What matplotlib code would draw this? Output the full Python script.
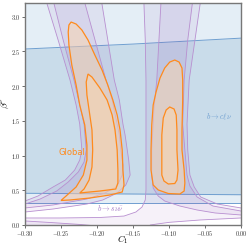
import matplotlib
matplotlib.use("Agg")
import matplotlib.pyplot as plt

plt.rcParams["font.family"] = ["DejaVu Serif"]
plt.rcParams["mathtext.fontset"] = "cm"

# b -> c l nu band (1 and 2 sigma)
blue_c1 = [-0.31, -0.15, 0.01]
blue_1s_low = [0.457, 0.446, 0.435]
blue_1s_high = [2.528, 2.604, 2.695]
blue_2s_low = [0.317, 0.317, 0.317]

# b -> s nu nu regions, (C1, beta) vertices
snn_2s_left = [(-0.271, 3.237), (-0.254, 2.662), (-0.2375, 2.086), (-0.229, 1.727),
               (-0.224, 1.453), (-0.221, 1.079), (-0.224, 0.935), (-0.231, 0.791),
               (-0.244, 0.647), (-0.261, 0.547), (-0.282, 0.417), (-0.300, 0.345),
               (-0.31, 0.33), (-0.31, 0.19),
               (-0.300, 0.187), (-0.261, 0.230), (-0.214, 0.302), (-0.192, 0.360),
               (-0.172, 0.460), (-0.160, 0.576), (-0.154, 0.719), (-0.156, 0.935),
               (-0.158, 1.079), (-0.161, 1.295), (-0.164, 1.453), (-0.169, 1.799),
               (-0.176, 2.086), (-0.194, 3.237)]
snn_1s_left = [(-0.261, 3.237), (-0.247, 2.662), (-0.232, 2.086), (-0.224, 1.727),
               (-0.218, 1.453), (-0.215, 1.079), (-0.218, 0.906), (-0.226, 0.763),
               (-0.240, 0.619), (-0.256, 0.489), (-0.279, 0.374), (-0.300, 0.302),
               (-0.31, 0.29), (-0.31, 0.25),
               (-0.300, 0.245), (-0.261, 0.288), (-0.214, 0.374), (-0.189, 0.460),
               (-0.172, 0.561), (-0.165, 0.719), (-0.164, 0.863), (-0.167, 1.079),
               (-0.169, 1.295), (-0.172, 1.453), (-0.179, 1.799), (-0.1875, 2.086),
               (-0.218, 3.237)]
snn_2s_right = [(-0.135, 3.237), (-0.133, 2.662), (-0.132, 2.086), (-0.132, 1.079),
                (-0.132, 0.504), (-0.133, 0.360), (-0.1375, 0.259), (-0.146, 0.187),
                (-0.1625, 0.129), (-0.196, 0.108), (-0.251, 0.101), (-0.300, 0.101),
                (-0.31, 0.101), (-0.31, -0.05), (-0.128, -0.05),
                (-0.126, 0.0), (-0.117, 0.014), (-0.099, 0.039), (-0.057, 0.072),
                (0.0, 0.101), (0.01, 0.101), (0.01, 0.245),
                (0.0, 0.245), (-0.033, 0.302), (-0.056, 0.403), (-0.065, 0.547),
                (-0.071, 0.719), (-0.074, 1.079), (-0.075, 1.453), (-0.072, 2.086),
                (-0.064, 2.662), (-0.056, 3.237)]
snn_1s_right = [(-0.111, 3.237), (-0.114, 2.662), (-0.117, 2.086), (-0.121, 1.655),
                (-0.122, 1.453), (-0.124, 1.079), (-0.124, 0.719), (-0.122, 0.532),
                (-0.115, 0.417), (-0.106, 0.345), (-0.085, 0.273), (-0.061, 0.216),
                (-0.036, 0.173), (0.0, 0.144), (0.01, 0.14), (0.01, 0.205),
                (0.0, 0.201), (-0.039, 0.273), (-0.061, 0.403), (-0.071, 0.561),
                (-0.075, 0.719), (-0.078, 1.079), (-0.081, 1.453), (-0.079, 2.086),
                (-0.074, 2.662), (-0.067, 3.237)]
snn_1s_bottom = [(-0.31, 0.058), (-0.300, 0.058), (-0.265, 0.036), (-0.224, 0.008),
                 (-0.205, -0.01), (-0.31, -0.05)]

# Global fit regions
glob_2s_left = [(-0.236, 2.921), (-0.229, 2.892), (-0.221, 2.806), (-0.2125, 2.662),
                (-0.203, 2.446), (-0.193, 2.230), (-0.185, 2.014), (-0.178, 1.799),
                (-0.172, 1.583), (-0.168, 1.367), (-0.165, 1.079), (-0.164, 0.791),
                (-0.1625, 0.576), (-0.165, 0.475), (-0.182, 0.432), (-0.210, 0.388),
                (-0.2375, 0.360), (-0.250, 0.353), (-0.243, 0.417), (-0.229, 0.547),
                (-0.219, 0.719), (-0.214, 0.935), (-0.214, 1.151), (-0.217, 1.439),
                (-0.224, 1.727), (-0.229, 2.014), (-0.235, 2.302), (-0.239, 2.590),
                (-0.240, 2.777), (-0.239, 2.878)]
glob_1s_left = [(-0.2125, 2.173), (-0.207, 2.129), (-0.196, 1.971), (-0.186, 1.799),
                (-0.179, 1.583), (-0.175, 1.367), (-0.172, 1.079), (-0.171, 0.791),
                (-0.171, 0.604), (-0.174, 0.518), (-0.196, 0.489), (-0.217, 0.468),
                (-0.224, 0.460), (-0.218, 0.518), (-0.211, 0.647), (-0.207, 0.835),
                (-0.206, 1.079), (-0.207, 1.367), (-0.211, 1.655), (-0.214, 1.871),
                (-0.215, 2.058)]
glob_2s_right = [(-0.092, 2.374), (-0.086, 2.345), (-0.082, 2.259), (-0.081, 2.086),
                 (-0.081, 1.799), (-0.082, 1.367), (-0.082, 1.079), (-0.079, 0.791),
                 (-0.078, 0.604), (-0.079, 0.489), (-0.085, 0.446), (-0.101, 0.453),
                 (-0.115, 0.504), (-0.122, 0.576), (-0.125, 0.791), (-0.125, 1.079),
                 (-0.124, 1.439), (-0.122, 1.727), (-0.118, 1.914), (-0.1125, 2.115),
                 (-0.106, 2.259), (-0.099, 2.345)]
glob_1s_right = [(-0.099, 1.698), (-0.093, 1.669), (-0.090, 1.583), (-0.089, 1.367),
                 (-0.089, 1.079), (-0.0875, 0.791), (-0.089, 0.647), (-0.092, 0.597),
                 (-0.101, 0.590), (-0.107, 0.633), (-0.110, 0.719), (-0.110, 1.007),
                 (-0.110, 1.295), (-0.108, 1.540), (-0.104, 1.655)]

x_ticks = [-0.30, -0.25, -0.20, -0.15, -0.10, -0.05, 0.00]
y_ticks = [0.0, 0.5, 1.0, 1.5, 2.0, 2.5, 3.0]

blue_line = "#6f9fd0"
purple_line = "#b88fd0"
purple_fill = (0.56, 0.30, 0.70, 0.08)
orange_line = "#ff8a1c"
orange_fill = (0.99, 0.84, 0.68, 0.5)

fig = plt.figure(figsize=(2.49, 2.49), dpi=100)
ax = fig.add_axes([0.1004, 0.0964, 0.8676, 0.893])

# b -> c l nu
ax.fill_between(blue_c1, blue_2s_low, 3.5, color="#e4eef6", lw=0, zorder=1)
ax.fill_between(blue_c1, blue_1s_low, blue_1s_high, color="#c9dcea", lw=0, zorder=1)
for yy in (blue_2s_low, blue_1s_low, blue_1s_high):
    ax.plot(blue_c1, yy, color=blue_line, lw=0.7, zorder=2)

# b -> s nu nu
for poly in (snn_2s_left, snn_2s_right, snn_1s_left, snn_1s_right, snn_1s_bottom):
    xs, ys = zip(*poly)
    ax.fill(xs, ys, facecolor=purple_fill, edgecolor=purple_line, lw=0.6, zorder=3)

# Global
for poly in (glob_2s_left, glob_2s_right, glob_1s_left, glob_1s_right):
    xs, ys = zip(*poly)
    ax.fill(xs, ys, facecolor=orange_fill, edgecolor=orange_line, lw=0.9, zorder=4)

ax.text(-0.2347, 1.04, "Global", color=orange_line, fontsize=6,
        family="DejaVu Sans", ha="center", va="center", zorder=5)
ax.text(-0.031, 1.55, r"$b\to c\ell\nu$", color="#6f9fd0", fontsize=5.5,
        ha="center", va="center", zorder=5)
ax.text(-0.181, 0.246, r"$b\to s\nu\bar{\nu}$", color="#a57cc6", fontsize=5.5,
        ha="center", va="center", zorder=5)

ax.set_xlim(-0.30, 0.0)
ax.set_ylim(0, 3.2)
ax.set_xticks(x_ticks)
ax.set_yticks(y_ticks)
ax.set_xticklabels([f"${v:.2f}$" for v in x_ticks])
ax.set_yticklabels([f"${v:.1f}$" for v in y_ticks])
ax.tick_params(labelsize=4.5, length=2, width=0.5, pad=1, colors="#333333")
ax.set_xlabel(r"$C_1$", fontsize=6.5, va="center")
ax.xaxis.set_label_coords(0.45, -0.067)
ax.set_ylabel(r"$\beta^{\nu}$", fontsize=7)
ax.yaxis.set_label_coords(-0.065, 0.55)
for s in ax.spines.values():
    s.set_color("#777777")
    s.set_linewidth(1.0)
    s.set_zorder(6)

fig.savefig("out.png", dpi=100)
